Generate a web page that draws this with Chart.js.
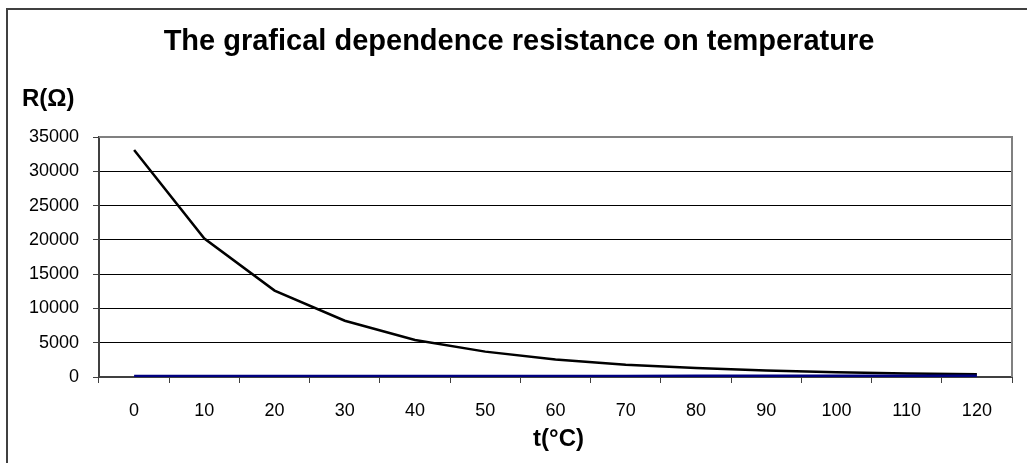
<!DOCTYPE html>
<html>
<head>
<meta charset="utf-8">
<script src="https://cdn.jsdelivr.net/npm/chart.js@4/dist/chart.umd.min.js"></script>
<style>
  html, body { margin: 0; padding: 0; background: #fff; }
  canvas { display: block; }
</style>
</head>
<body>
<canvas id="chart" width="1027" height="463"></canvas>
<script>
/* =========================
   DATA
========================= */
const temperatures = ["0", "10", "20", "30", "40", "50", "60", "70", "80", "90", "100", "110", "120"];
const ntcResistance = [33100, 20200, 12600, 8200, 5400, 3700, 2550, 1800, 1300, 950, 700, 520, 400];
const ptResistance = [100, 103.9, 107.8, 111.7, 115.5, 119.4, 123.2, 127.1, 130.9, 134.7, 138.5, 142.3, 146.1];
const yTicks = [0, 5000, 10000, 15000, 20000, 25000, 30000, 35000];

const FONT = "'Liberation Sans', Arial, sans-serif";

/* =========================
   TEXT + FRAME PLUGIN
========================= */
const decorations = {
  id: "decorations",
  beforeDraw(chart) {
    const ctx = chart.ctx;
    ctx.save();
    ctx.fillStyle = "#fff";
    ctx.fillRect(0, 0, chart.width, chart.height);
    // outer frame (top + left only visible)
    ctx.strokeStyle = "#404040";
    ctx.lineWidth = 2;
    ctx.beginPath();
    ctx.moveTo(7, chart.height);
    ctx.lineTo(7, 9);
    ctx.lineTo(chart.width, 9);
    ctx.stroke();
    ctx.restore();
  },
  beforeDatasetsDraw(chart) {
    const { ctx, chartArea: a } = chart;
    ctx.save();
    ctx.strokeStyle = "#808080";
    ctx.lineWidth = 2;
    ctx.beginPath();
    ctx.moveTo(a.left, a.top);
    ctx.lineTo(a.right, a.top);
    ctx.lineTo(a.right, a.bottom);
    ctx.stroke();
    ctx.restore();
  },
  afterDraw(chart) {
    const { ctx, chartArea: a } = chart;
    ctx.save();
    ctx.fillStyle = "#000";
    ctx.textBaseline = "alphabetic";

    ctx.font = "bold 29px " + FONT;
    ctx.textAlign = "center";
    ctx.fillText("The grafical dependence resistance on temperature", 519, 50);

    ctx.font = "bold 24px " + FONT;
    ctx.textAlign = "left";
    ctx.fillText("R(\u03A9)", 22, 106);

    ctx.textAlign = "center";
    ctx.fillText("t(\u00B0C)", (a.left + a.right) / 2 + 3, 446);
    ctx.restore();
  }
};

/* =========================
   CHART
========================= */
new Chart(document.getElementById("chart"), {
  type: "line",
  data: {
    labels: temperatures,
    datasets: [
      {
        data: ptResistance,
        borderColor: "#000080",
        borderWidth: 3,
        pointRadius: 0,
        tension: 0
      },
      {
        data: ntcResistance,
        borderColor: "#000",
        borderWidth: 2.5,
        pointRadius: 0,
        tension: 0
      }
    ]
  },
  options: {
    responsive: false,
    animation: false,
    layout: { padding: { top: 137, right: 15, left: 0, bottom: 0 } },
    plugins: {
      legend: { display: false },
      tooltip: { enabled: false }
    },
    scales: {
      x: {
        offset: true,
        grid: {
          offset: true,
          drawOnChartArea: false,
          drawTicks: true,
          tickLength: 6,
          tickColor: "#404040",
          tickWidth: 1
        },
        border: { color: "#404040", width: 2 },
        ticks: {
          color: "#000",
          font: { family: FONT, size: 18 },
          padding: 17,
          maxRotation: 0,
          autoSkip: false
        },
        afterFit(scale) { scale.height = 86; }
      },
      y: {
        min: 0,
        max: 35000,
        afterBuildTicks(scale) { scale.ticks = yTicks.map(v => ({ value: v })); },
        grid: {
          color: ctx => (ctx.tick && (ctx.tick.value === 0 || ctx.tick.value === 35000)) ? "rgba(0,0,0,0)" : "#000",
          lineWidth: 1,
          borderDash: [1, 1],
          tickBorderDash: [],
          tickColor: "#404040",
          tickLength: 6
        },
        border: { color: "#404040", width: 2 },
        ticks: {
          color: "#000",
          font: { family: FONT, size: 18 },
          padding: 14,
          callback: v => String(v)
        },
        afterFit(scale) { scale.width = 99; }
      }
    }
  },
  plugins: [decorations]
});
</script>
</body>
</html>
